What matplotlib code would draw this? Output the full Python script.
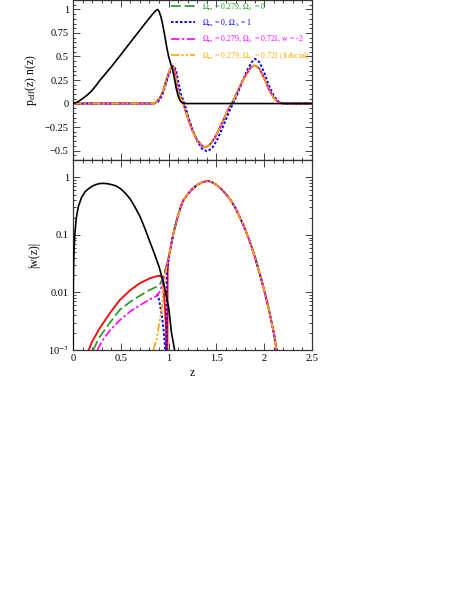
import matplotlib
matplotlib.use("Agg")
import matplotlib.pyplot as plt
from matplotlib.ticker import MultipleLocator, FixedLocator, FixedFormatter, LogLocator, NullFormatter

plt.rcParams['font.family'] = 'serif'
plt.rcParams['font.serif'] = ['Liberation Serif', 'DejaVu Serif']
plt.rcParams['mathtext.fontset'] = 'stix'

# ---------------- data: top panel ----------------
z_n = [0, 0.02, 0.04, 0.06, 0.08, 0.1, 0.12, 0.143, 0.17, 0.2, 0.24, 0.28, 0.33, 0.4, 0.49,
       0.6, 0.7, 0.8, 0.85, 0.87, 0.885, 0.9, 0.92, 0.94, 0.96, 0.98, 1.0, 1.02, 1.04, 1.06,
       1.08, 1.1, 1.12, 1.14, 1.16, 2.5]
n_val = [0, 0.005, 0.014, 0.025, 0.038, 0.052, 0.068, 0.085, 0.11, 0.14, 0.19, 0.245, 0.305, 0.39, 0.505,
         0.65, 0.78, 0.91, 0.97, 0.99, 1.0, 0.98, 0.92, 0.83, 0.72, 0.6, 0.5, 0.43, 0.37, 0.27,
         0.16, 0.08, 0.03, 0.01, 0, 0]

z_p = [0, 0.84, 0.88, 0.92, 0.945, 0.97, 1.0, 1.02, 1.035, 1.045, 1.06, 1.07, 1.085, 1.1, 1.12,
       1.154, 1.2, 1.25, 1.3, 1.35, 1.388, 1.43, 1.48, 1.53, 1.58, 1.62, 1.66, 1.7, 1.75, 1.8,
       1.85, 1.88, 1.9, 1.92, 1.95, 2.0, 2.05, 2.1, 2.15, 2.2, 2.5]
p_fid = [0, 0, 0.02, 0.08, 0.14, 0.23, 0.32, 0.37, 0.395, 0.40, 0.37, 0.32, 0.22, 0.15, 0.08,
         0, -0.15, -0.29, -0.39, -0.45, -0.465, -0.44, -0.37, -0.27, -0.16, -0.07, 0, 0.08, 0.19, 0.29,
         0.37, 0.398, 0.404, 0.395, 0.37, 0.27, 0.15, 0.06, 0.015, 0, 0]

z_pb = [0, 0.85, 0.89, 0.93, 0.96, 0.99, 1.02, 1.04, 1.057, 1.075, 1.1, 1.13, 1.165, 1.2, 1.25,
        1.3, 1.35, 1.40, 1.45, 1.5, 1.55, 1.6, 1.64, 1.674, 1.72, 1.77, 1.82, 1.87, 1.904, 1.95,
        2.0, 2.05, 2.1, 2.15, 2.2, 2.5]
p_blue = [0, 0, 0.02, 0.08, 0.17, 0.27, 0.35, 0.385, 0.39, 0.36, 0.24, 0.1, 0, -0.12, -0.28,
          -0.40, -0.48, -0.507, -0.48, -0.40, -0.29, -0.17, -0.07, 0, 0.1, 0.23, 0.35, 0.44, 0.475, 0.44,
          0.33, 0.19, 0.08, 0.02, 0, 0]

# ---------------- data: bottom panel ----------------
z_wk = [0, 0.002, 0.006, 0.012, 0.02, 0.035, 0.056, 0.09, 0.126, 0.16, 0.2, 0.24, 0.28, 0.32,
        0.36, 0.4, 0.45, 0.5, 0.55, 0.6, 0.65, 0.7, 0.75, 0.8, 0.85, 0.9, 0.95, 1.0, 1.03,
        1.063, 1.09]
w_black = [1e-5, 0.01, 0.03, 0.06, 0.107, 0.2, 0.31, 0.45, 0.56, 0.63, 0.7, 0.75, 0.78, 0.785,
           0.775, 0.75, 0.71, 0.63, 0.525, 0.417, 0.30, 0.21, 0.132, 0.079, 0.048, 0.028, 0.014, 0.0056, 0.002,
           0.001, 0.0005]

# common high-z branch
z_hi = [1.05, 1.075, 1.1, 1.125, 1.154, 1.2, 1.25, 1.3, 1.35, 1.39, 1.42, 1.45, 1.5, 1.55,
        1.6, 1.65, 1.7, 1.75, 1.8, 1.85, 1.9, 1.95, 2.0, 2.05, 2.1, 2.13, 2.16]
w_hi = [0.106, 0.155, 0.22, 0.3, 0.4, 0.51, 0.63, 0.74, 0.82, 0.855, 0.86, 0.83, 0.74, 0.63,
        0.51, 0.40, 0.29, 0.195, 0.126, 0.076, 0.043, 0.022, 0.011, 0.005, 0.002, 0.001, 0.0005]

z_red = [0.165, 0.2, 0.28, 0.387, 0.49, 0.6, 0.7, 0.8, 0.87, 0.91, 0.93, 0.945, 0.96, 0.975,
         0.985, 0.99, 1.0, 1.02]
w_red = [0.001, 0.0014, 0.0024, 0.0044, 0.0074, 0.011, 0.0145, 0.0175, 0.019, 0.0195, 0.018,
         0.013, 0.006, 0.002, 1e-5, 0.025, 0.04, 0.058]

z_green = [0.21, 0.28, 0.387, 0.49, 0.6, 0.7, 0.8, 0.875, 0.91, 0.94, 0.97, 1.0, 1.02]
w_green = [0.001, 0.0017, 0.003, 0.005, 0.0069, 0.0088, 0.011, 0.0126, 0.014, 0.018, 0.027, 0.04, 0.058]

z_mag = [0.255, 0.3, 0.387, 0.49, 0.6, 0.7, 0.8, 0.875, 0.91, 0.94, 0.97, 1.0, 1.02]
w_mag = [0.001, 0.0014, 0.0022, 0.0033, 0.0047, 0.006, 0.0075, 0.0087, 0.0105, 0.015, 0.025, 0.04, 0.058]

z_orange = [0.84, 0.875, 0.9, 0.927, 0.945, 0.96, 0.98, 1.0, 1.02]
w_orange = [0.001, 0.0015, 0.0028, 0.005, 0.011, 0.018, 0.028, 0.04, 0.058]

z_blue = [0.88, 0.9, 0.93, 0.95, 0.965, 0.972, 0.98, 1.0, 1.02]
w_blue = [0.0095, 0.0075, 0.004, 0.002, 0.001, 1e-5, 0.02, 0.04, 0.058]

labels = [r'$\Omega_{\rm m}$ = 0.279, $\Omega_\Lambda$ = 0',
          r'$\Omega_{\rm m}$ = 0, $\Omega_\Lambda$ = 1',
          r'$\Omega_{\rm m}$ = 0.279, $\Omega_\Lambda$ = 0.721, w = -2',
          r'$\Omega_{\rm m}$ = 0.279, $\Omega_\Lambda$ = 0.721 (fiducial)']

c_green = '#1f9a1f'
c_blue = '#0000ff'
c_mag = '#ff00ff'
c_orange = '#ffa500'
c_red = '#ff0000'
ls_green = (0, (6, 2.2))
ls_blue = (0, (1.3, 1.0))
ls_mag = (0, (5, 1.5, 1.5, 1.5))
ls_orange = (0, (5, 1.3, 1.3, 1.3, 1.3, 1.3))

W, H = 463, 599
fig = plt.figure(figsize=(W / 100, H / 100), dpi=100)
ax1 = fig.add_axes([73 / W, 1 - 160 / H, 239 / W, 160 / H])
ax2 = fig.add_axes([73 / W, 1 - 350 / H, 239 / W, 190 / H])

# top panel
ax1.plot(z_n, n_val, color='black', lw=1.2, zorder=6)
ax1.plot(z_p, p_fid, color=c_red, lw=1.3, zorder=2)
l1, = ax1.plot(z_p, p_fid, color=c_green, lw=1.2, ls=ls_green, zorder=3, label=labels[0])
l2, = ax1.plot(z_pb, p_blue, color=c_blue, lw=1.4, ls=ls_blue, zorder=4, label=labels[1])
l3, = ax1.plot(z_p, p_fid, color=c_mag, lw=1.2, ls=ls_mag, zorder=4, label=labels[2])
l4, = ax1.plot(z_p, p_fid, color=c_orange, lw=1.2, ls=ls_orange, zorder=5, label=labels[3])

leg = ax1.legend(handles=[l1, l2, l3, l4], loc='upper right', fontsize=5.6, frameon=False,
                 handlelength=3.0, labelspacing=0.75, borderaxespad=0.0, borderpad=0.2,
                 handletextpad=1.0)
for txt, col in zip(leg.get_texts(), [c_green, c_blue, c_mag, c_orange]):
    txt.set_color(col)

ax1.set_xlim(0, 2.5)
ax1.set_ylim(-0.6, 1.1)
ax1.xaxis.set_major_locator(MultipleLocator(0.5))
ax1.xaxis.set_minor_locator(MultipleLocator(0.1))
ax1.yaxis.set_major_locator(FixedLocator([-0.5, -0.25, 0, 0.25, 0.5, 0.75, 1]))
ax1.yaxis.set_major_formatter(FixedFormatter(['\u22120.5', '\u22120.25', '0', '0.25', '0.5', '0.75', '1']))
ax1.yaxis.set_minor_locator(MultipleLocator(0.05))
ax1.tick_params(axis='x', labelbottom=False)
ax1.set_ylabel(r'p$_{\rm eff}$(z) n(z)', fontsize=8.5, labelpad=4)

# bottom panel
ax2.plot(z_wk, w_black, color='black', lw=1.2, zorder=6)
ax2.plot(z_red + z_hi, w_red + w_hi, color=c_red, lw=1.3, zorder=2)
ax2.plot(z_green + z_hi, w_green + w_hi, color=c_green, lw=1.2, ls=ls_green, zorder=3)
ax2.plot(z_blue + z_hi, w_blue + w_hi, color=c_blue, lw=1.4, ls=ls_blue, zorder=4)
ax2.plot(z_mag + z_hi, w_mag + w_hi, color=c_mag, lw=1.2, ls=ls_mag, zorder=4)
ax2.plot(z_orange + z_hi, w_orange + w_hi, color=c_orange, lw=1.2, ls=ls_orange, zorder=5)

ax2.set_yscale('log')
ax2.set_xlim(0, 2.5)
ax2.set_ylim(1e-3, 2)
ax2.xaxis.set_major_locator(FixedLocator([0, 0.5, 1, 1.5, 2, 2.5]))
ax2.xaxis.set_major_formatter(FixedFormatter(['0', '0.5', '1', '1.5', '2', '2.5']))
ax2.xaxis.set_minor_locator(MultipleLocator(0.1))
ax2.yaxis.set_major_locator(FixedLocator([1e-3, 1e-2, 1e-1, 1]))
ax2.yaxis.set_major_formatter(FixedFormatter([r'10$^{-3}$', '0.01', '0.1', '1']))
ax2.yaxis.set_minor_locator(LogLocator(base=10, subs=range(2, 10)))
ax2.yaxis.set_minor_formatter(NullFormatter())
ax2.set_ylabel('|w(z)|', fontsize=8.5, labelpad=6)
ax2.set_xlabel('z', fontsize=8.5, labelpad=3)

for ax in (ax1, ax2):
    ax.tick_params(which='both', direction='in', top=True, right=True, labelsize=7.5, pad=3,
                   color='#444444', width=0.7)
    ax.tick_params(which='major', length=5)
    ax.tick_params(which='minor', length=2.5)
    for s in ax.spines.values():
        s.set_linewidth(0.9)
        s.set_color('#333333')

fig.savefig('out.png', dpi=100)
